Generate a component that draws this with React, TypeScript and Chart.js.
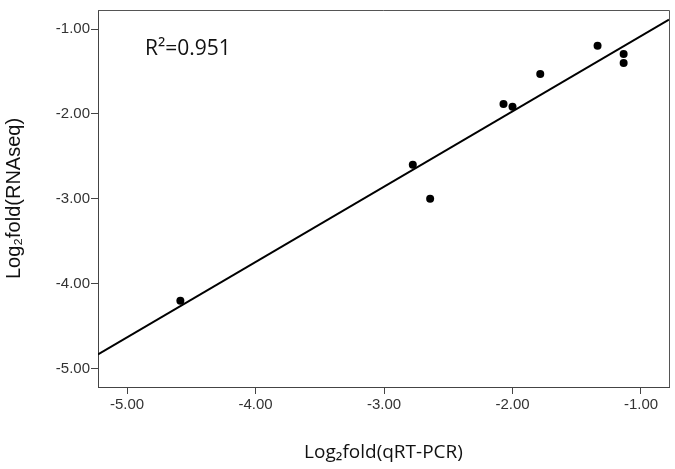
import React, { useEffect, useRef } from "react";
import { Chart, registerables } from "chart.js";

Chart.register(...registerables);

const qpcrValues = [-4.585, -2.776, -2.641, -2.07, -2.0, -1.784, -1.338, -1.135, -1.135];
const rnaseqValues = [-4.198, -2.598, -2.997, -1.884, -1.915, -1.528, -1.198, -1.295, -1.4];
const fitX = [-5.226, -0.782];
const fitY = [-4.83, -0.89];
const xTicks = [-5, -4, -3, -2, -1];
const yTicks = [-5, -4, -3, -2, -1];
const xTitle = "Log₂fold(qRT-PCR)";
const yTitle = "Log₂fold(RNAseq)";
const rSquaredLabel = "R²=0.951";

const frame = {
  id: "frame",
  afterDraw(chart: any) {
    const { ctx, chartArea } = chart;
    const { left, right, top, bottom } = chartArea;
    ctx.save();
    ctx.strokeStyle = "#555";
    ctx.lineWidth = 1;
    ctx.beginPath();
    ctx.moveTo(left, top + 0.5);
    ctx.lineTo(right + 0.5, top + 0.5);
    ctx.lineTo(right + 0.5, bottom);
    ctx.stroke();
    ctx.fillStyle = "#111";
    ctx.font = '21px "Open Sans"';
    ctx.textBaseline = "middle";
    ctx.textAlign = "left";
    ctx.fillText(rSquaredLabel, left + 47, top + 39);
    ctx.restore();
  },
};

export default function App() {
  const ref = useRef<HTMLCanvasElement>(null);
  useEffect(() => {
    if (!ref.current) return;
    const tickFont = { family: '"Liberation Sans", Arial, sans-serif', size: 15 };
    const chart = new Chart(ref.current, {
      type: "scatter",
      data: {
        datasets: [
          {
            type: "line",
            data: fitX.map((x, i) => ({ x, y: fitY[i] })),
            borderColor: "#000",
            borderWidth: 2,
            pointRadius: 0,
            fill: false,
          } as any,
          {
            type: "scatter",
            data: qpcrValues.map((x, i) => ({ x, y: rnaseqValues[i] })),
            backgroundColor: "#000",
            borderColor: "#000",
            borderWidth: 0,
            pointRadius: 4,
          },
        ],
      },
      options: {
        animation: false,
        responsive: false,
        layout: { padding: { left: 0, right: 6, top: 5, bottom: 0 } },
        plugins: { legend: { display: false }, tooltip: { enabled: false } },
        scales: {
          x: {
            type: "linear",
            min: -5.226,
            max: -0.782,
            afterBuildTicks: (s: any) => {
              s.ticks = xTicks.map((v) => ({ value: v }));
            },
            afterFit: (s: any) => {
              s.height = 82;
            },
            ticks: {
              callback: (v: any) => Number(v).toFixed(2),
              font: tickFont,
              color: "#333",
              padding: 2,
              maxRotation: 0,
            },
            grid: { drawOnChartArea: false, drawTicks: true, tickLength: 7, color: "#444" },
            border: { display: true, color: "#444", width: 1 },
            title: {
              display: true,
              text: xTitle,
              color: "#111",
              font: { family: '"Open Sans", sans-serif', size: 19 },
              padding: { top: 0, bottom: 5 },
            },
          },
          y: {
            type: "linear",
            min: -5.214,
            max: -0.776,
            afterBuildTicks: (s: any) => {
              s.ticks = yTicks.map((v) => ({ value: v }));
            },
            afterFit: (s: any) => {
              s.width = 98;
            },
            ticks: {
              callback: (v: any) => Number(v).toFixed(2),
              font: tickFont,
              color: "#333",
              padding: 1,
            },
            grid: { drawOnChartArea: false, drawTicks: true, tickLength: 7, color: "#444" },
            border: { display: true, color: "#444", width: 1 },
            title: {
              display: true,
              text: yTitle,
              color: "#111",
              font: { family: '"Liberation Sans", Arial, sans-serif', size: 20 },
              padding: { top: 2, bottom: 0 },
            },
          },
        },
      },
      plugins: [frame],
    });
    return () => chart.destroy();
  }, []);
  return (
    <div style={{ position: "absolute", left: 0, top: 0, width: 675, height: 469, background: "#fff" }}>
      <canvas ref={ref} width={675} height={469} />
    </div>
  );
}
